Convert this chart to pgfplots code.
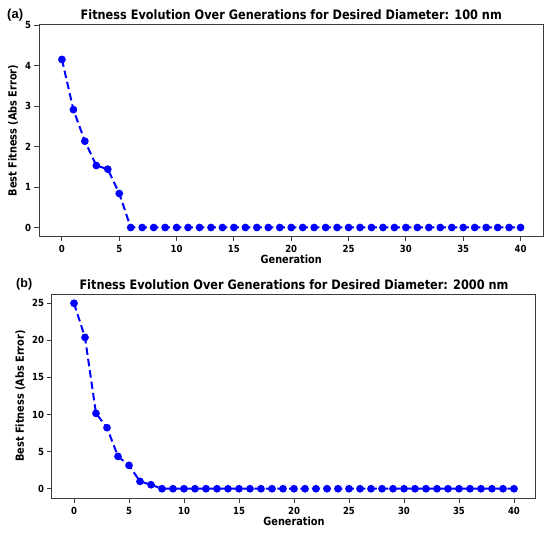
\documentclass[border=0pt]{standalone}
\usepackage{pgfplots}
\pgfplotsset{compat=1.18}
\usepackage{fontspec}
\setmainfont{DejaVu Sans}[FakeStretch=0.87]
\newfontfamily\panelfont{Liberation Sans}
\definecolor{mblue}{RGB}{0,0,255}
\definecolor{frame}{RGB}{60,60,60}
\pgfplotstableread{
x y
0 4.15
1 2.91
2 2.13
3 1.53
4 1.44
5 0.84
6 0
7 0
8 0
9 0
10 0
11 0
12 0
13 0
14 0
15 0
16 0
17 0
18 0
19 0
20 0
21 0
22 0
23 0
24 0
25 0
26 0
27 0
28 0
29 0
30 0
31 0
32 0
33 0
34 0
35 0
36 0
37 0
38 0
39 0
40 0
}\dataA
\pgfplotstableread{
x y
0 25.0
1 20.4
2 10.16
3 8.23
4 4.36
5 3.15
6 0.99
7 0.54
8 0
9 0
10 0
11 0
12 0
13 0
14 0
15 0
16 0
17 0
18 0
19 0
20 0
21 0
22 0
23 0
24 0
25 0
26 0
27 0
28 0
29 0
30 0
31 0
32 0
33 0
34 0
35 0
36 0
37 0
38 0
39 0
40 0
}\dataB
\pgfplotsset{
  myaxis/.style={
    scale only axis,
    xmin=-2, xmax=42,
    xtick={0,5,...,40},
    axis line style={frame, line width=1pt},
    tick style={frame, line width=0.9pt},
    tick align=outside,
    major tick length=4.5pt,
    xtick pos=bottom, ytick pos=left,
    /pgf/number format/assume math mode=true,
    tick label style={font=\bfseries\fontsize{9.8}{12}\selectfont},
    xticklabel style={yshift=-1pt},
    label style={font=\bfseries\fontsize{11.2}{13}\selectfont},
    title style={font=\bfseries\fontsize{13}{15}\selectfont, at={(0.5,1)}, anchor=base, yshift=-1pt},
    xlabel style={at={(0.5,0)}, anchor=base, yshift=-27.3pt},
    xlabel={Generation},
    ylabel={Best Fitness (Abs Error)},
    clip=false,
  },
  myplot/.style={mblue, line width=2pt, dash pattern=on 7.5pt off 4pt,
    mark=*, mark size=2.8pt, mark options={solid, fill=mblue, draw=mblue}},
}
\begin{document}
\begin{tikzpicture}
\path (0,0) rectangle (550pt,-535pt);
\begin{axis}[myaxis,
  at={(39pt,-25pt)}, anchor=north west,
  width=504.5pt, height=211pt,
  ymin=-0.21, ymax=5, ytick={0,1,2,3,4,5},
  title={Fitness Evolution Over Generations for Desired Diameter: 100 nm},
]
\addplot[myplot] table[x=x,y=y] {\dataA};
\end{axis}
\begin{axis}[myaxis,
  at={(52pt,-294pt)}, anchor=north west,
  width=484pt, height=204pt,
  ymin=-1.25, ymax=26.25, ytick={0,5,10,15,20,25},
  title={Fitness Evolution Over Generations for Desired Diameter: 2000 nm},
]
\addplot[myplot] table[x=x,y=y] {\dataB};
\end{axis}
\node[anchor=west, inner sep=0pt, font=\panelfont\bfseries\fontsize{13}{15}\selectfont] at (7pt,-15pt) {(a)};
\node[anchor=west, inner sep=0pt, font=\panelfont\bfseries\fontsize{12.5}{14}\selectfont] at (16pt,-284.5pt) {(b)};
\end{tikzpicture}
\end{document}
